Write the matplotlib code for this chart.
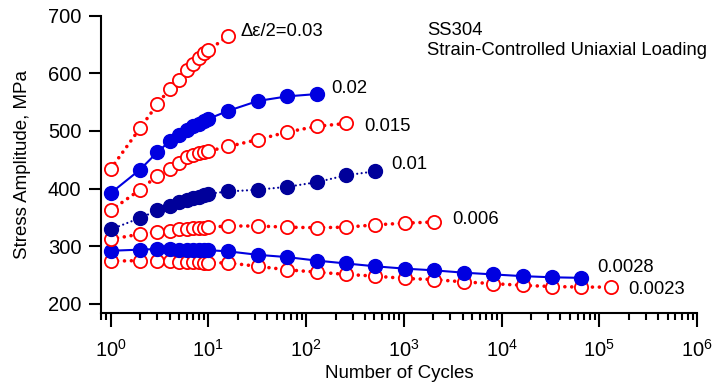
import numpy as np
import matplotlib
matplotlib.use("Agg")
import matplotlib.pyplot as plt
from matplotlib.ticker import LogLocator, MultipleLocator

plt.rcParams['font.family'] = ['Liberation Sans', 'DejaVu Sans']
plt.rcParams['mathtext.fontset'] = 'custom'
plt.rcParams['mathtext.rm'] = 'Liberation Sans'
plt.rcParams['mathtext.it'] = 'Liberation Sans:italic'

# cycle counts (first 10 cycles, then doubling)
cyc_early = [1, 2, 3, 4, 5, 6, 7, 8, 9, 10]
cyc_double = [16, 32, 64, 128, 256, 512, 1024, 2048, 4096, 8192, 16384, 32768, 65536, 131072]

# stress amplitudes (MPa) for each strain amplitude
s030 = [434, 505, 546, 573, 589, 606, 617, 627, 635, 640, 665]
s020 = [392, 433, 463, 482, 493, 501, 508, 512, 517, 521, 535, 552, 560, 564]
s015 = [362, 398, 422, 434, 444, 454, 458, 461, 463, 465, 473, 485, 498, 508, 513]
s010 = [329, 349, 362, 370, 376, 381, 384, 386, 389, 391, 395, 398, 403, 411, 423, 430]
s006 = [312, 321, 325, 327, 329, 330, 331, 332, 332, 333, 335, 335, 333, 332, 333, 337, 340, 342]
s0028 = [292, 294, 295, 295, 294, 294, 294, 293, 293, 293, 291, 285, 281, 275, 270,
         265, 261, 258, 254, 251, 248, 246, 245]
s0023 = [274, 275, 275, 274, 273, 272, 272, 272, 271, 271, 271, 265, 259, 255, 251,
         248, 244, 242, 238, 235, 232, 230, 229, 229]

labels = ["\u0394\u03b5/2=0.03", "0.02", "0.015", "0.01", "0.006", "0.0028", "0.0023"]
# label anchor (cycles, MPa)
lab_x = [21.5, 179, 394, 740, 3100, 95500, 197000]
lab_y = [672, 574, 507, 441, 346, 263, 225]

all_cyc = cyc_early + cyc_double

red = '#FF0000'
blue = '#0000E0'
navy = '#00009A'

fig = plt.figure(figsize=(7.13, 3.86), dpi=100)
ax = fig.add_axes([0.1412, 0.1891, 0.8364, 0.7702])

red_dot = dict(color=red, ls=(0, (0.01, 1.9)), lw=2.6, dash_capstyle='round',
               marker='o', ms=9.5, mfc='white', mec=red, mew=1.3)
blue_solid = dict(color=blue, ls='-', lw=1.5, marker='o', ms=10, mfc=blue, mec=blue)
navy_dot = dict(color=navy, ls=(0, (0.01, 2.0)), lw=1.6, dash_capstyle='round',
                marker='o', ms=10, mfc=navy, mec=navy)

series = [(s030, red_dot), (s020, blue_solid), (s015, red_dot), (s010, navy_dot),
          (s006, red_dot), (s0028, blue_solid), (s0023, red_dot)]

# draw lower series first so upper ones overlap like the original
for vals, style in series[::-1]:
    ax.plot(all_cyc[:len(vals)], vals, **style, zorder=3)

for t, x, y in zip(labels, lab_x, lab_y):
    ax.text(x, y, t, fontsize=13.3, ha='left', va='center')

ax.text(1715, 675, "SS304", fontsize=13.3, ha='left', va='center')
ax.text(1715, 639, "Strain-Controlled Uniaxial Loading", fontsize=13.3, ha='left', va='center')

ax.set_xscale('log')
ax.set_xlim(0.79, 1e6)
ax.set_ylim(184, 700)
ax.xaxis.set_minor_locator(LogLocator(base=10, subs=np.arange(2, 10), numticks=20))
ax.yaxis.set_major_locator(MultipleLocator(100))
ax.set_xticks([1, 10, 100, 1e3, 1e4, 1e5, 1e6])

for s in ['top', 'right']:
    ax.spines[s].set_visible(False)
for s in ['left', 'bottom']:
    ax.spines[s].set_linewidth(1.5)

ax.tick_params(axis='y', which='major', direction='out', length=9, width=1.5,
               labelsize=14.5, pad=5)
ax.tick_params(axis='x', which='major', direction='out', length=10, width=1.5,
               labelsize=14.5, pad=9)
ax.tick_params(axis='x', which='minor', direction='out', length=5, width=1.5)

ax.set_xlabel("Number of Cycles", fontsize=13.5, labelpad=3)
ax.set_ylabel("Stress Amplitude, MPa", fontsize=13.5, labelpad=12)

fig.savefig("out.png", dpi=100)
